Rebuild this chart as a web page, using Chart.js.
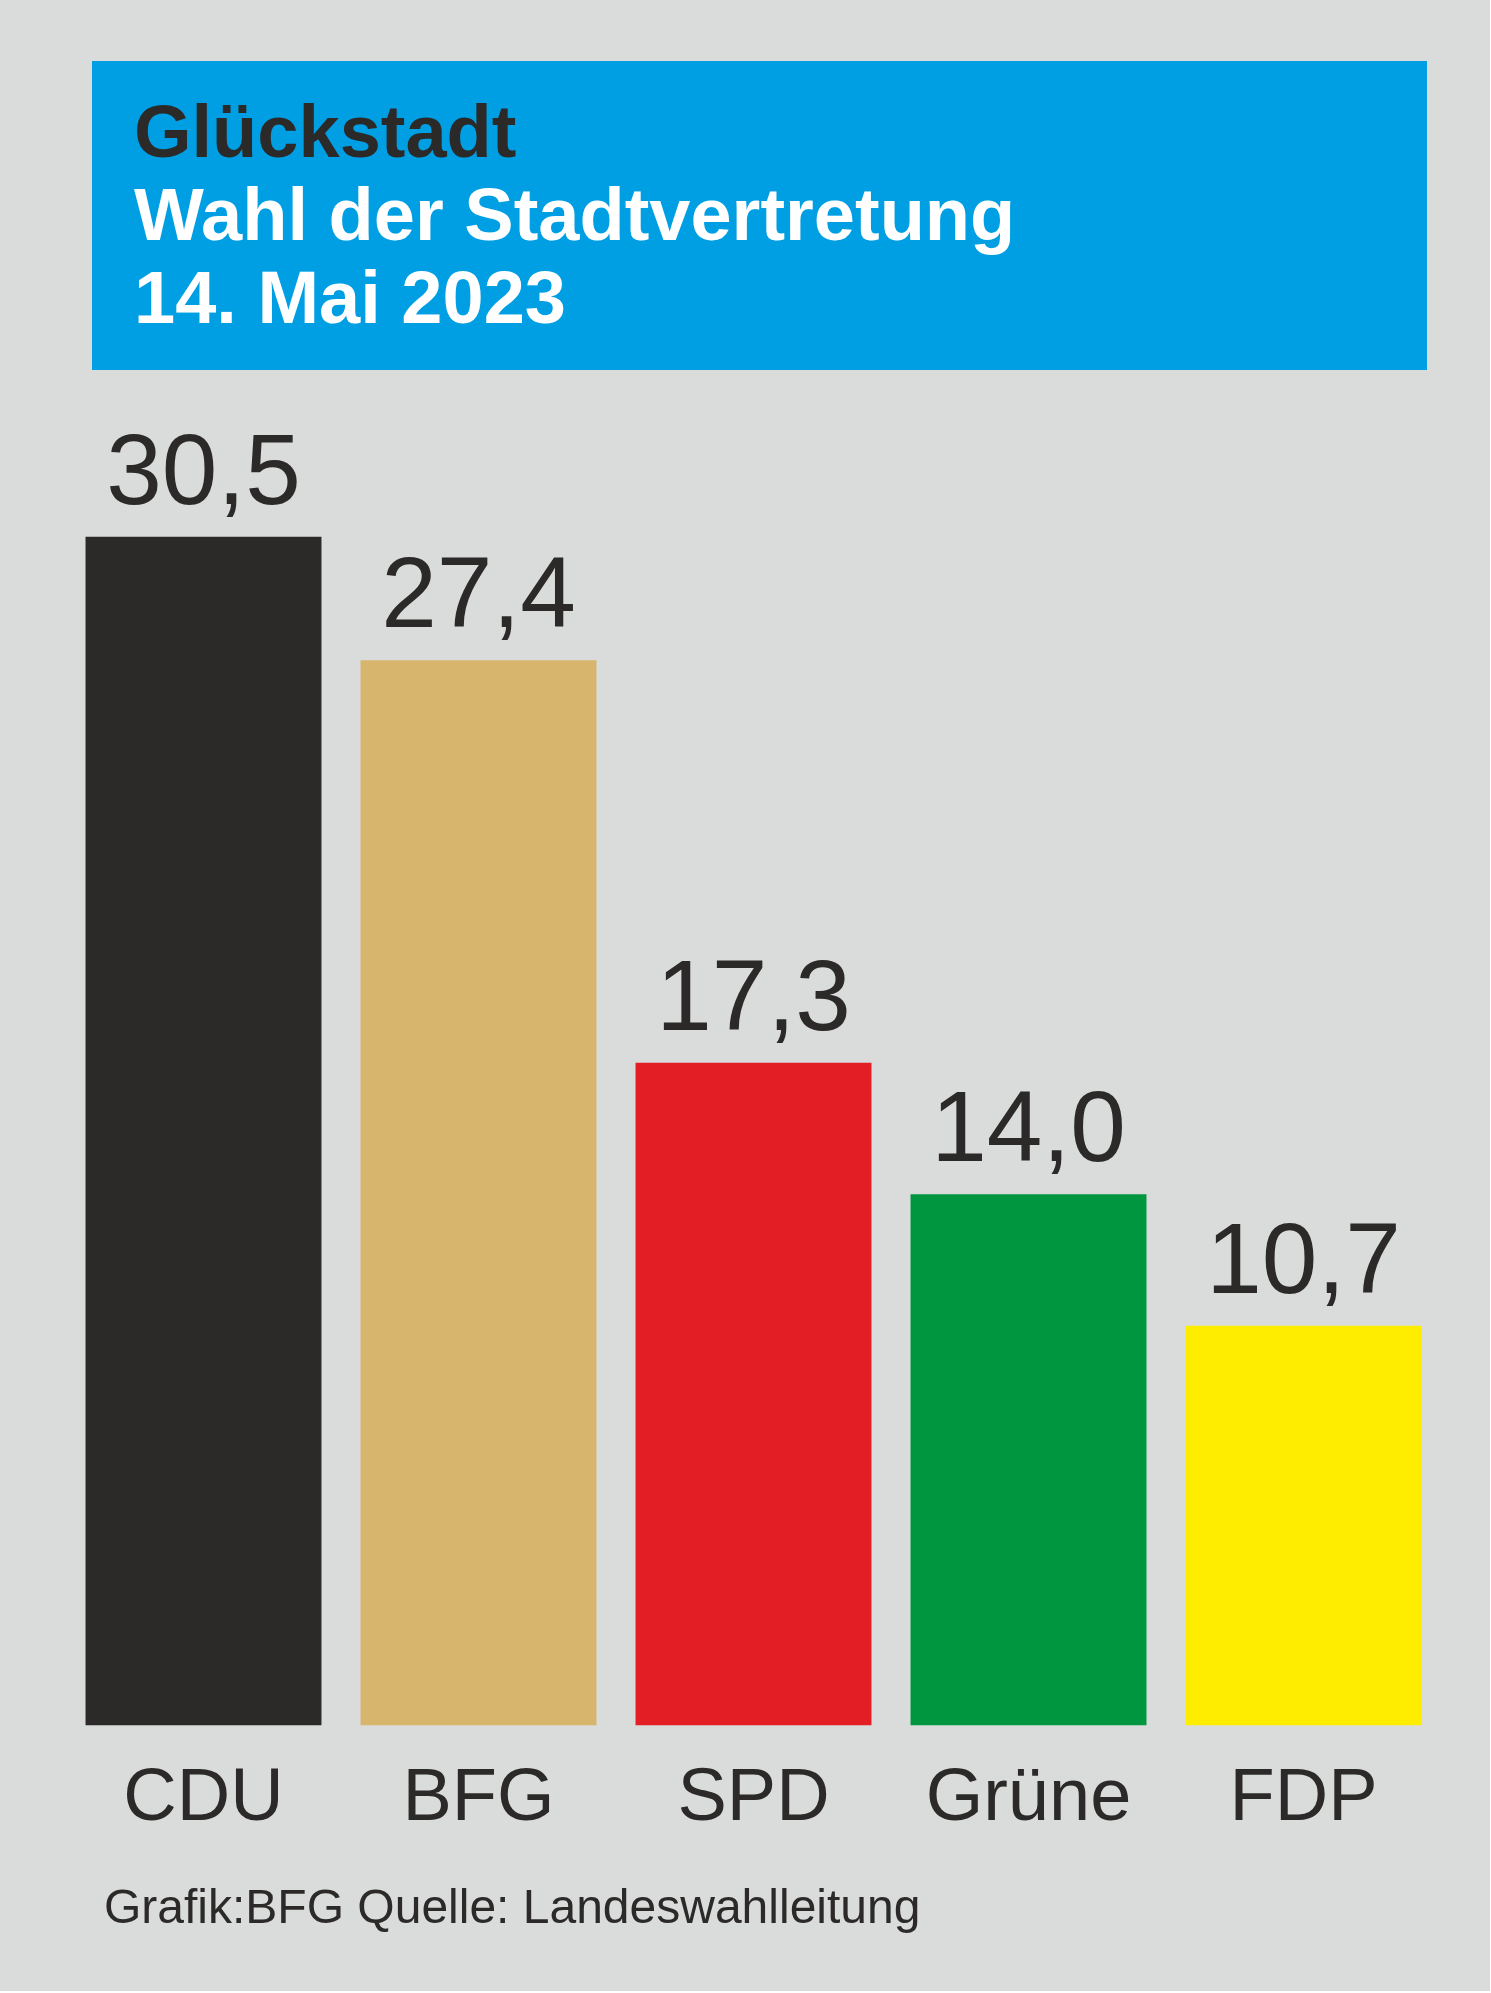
<!DOCTYPE html>
<html lang="de">
<head>
  <meta charset="UTF-8" />
  <title>Glückstadt - Wahl der Stadtvertretung 2023</title>
  <script src="https://cdn.jsdelivr.net/npm/chart.js"></script>
  <style>
    * {
      box-sizing: border-box;
    }

    html, body {
      margin: 0;
      padding: 0;
      background: #ffffff;
      width: 1491px;
      height: 1993px;
      overflow: hidden;
      font-family: 'Liberation Sans', Arial, sans-serif;
    }

    .bg {
      position: absolute;
      left: 0;
      top: 0;
      width: 1490px;
      height: 1991px;
      background: #dadcdb;
    }

    .header {
      position: absolute;
      left: 92px;
      top: 61px;
      width: 1335px;
      height: 309px;
      background: #009fe3;
      padding: 29px 0 0 42px;
      font-weight: 700;
      font-size: 74px;
      line-height: 83px;
      color: #ffffff;
    }

    .header .place {
      color: #2b2a29;
    }

    canvas {
      position: absolute;
      left: 0;
      top: 0;
    }

    .source {
      position: absolute;
      left: 104px;
      top: 1878px;
      font-size: 48px;
      line-height: 58px;
      color: #2b2a29;
    }
  </style>
</head>
<body>

  <div class="bg"></div>

  <div class="header">
    <div class="place">Glückstadt</div>
    <div>Wahl der Stadtvertretung</div>
    <div>14. Mai 2023</div>
  </div>

  <canvas id="resultChart" width="1491" height="1993"></canvas>

  <div class="source">Grafik:BFG Quelle: Landeswahlleitung</div>

  <script>
    const parties = ['CDU', 'BFG', 'SPD', 'Grüne', 'FDP'];
    const shares = [30.5, 27.4, 17.3, 14.0, 10.7];
    const partyColors = ['#2b2a29', '#d7b56d', '#e31e24', '#009640', '#ffed00'];

    const textColor = '#2b2a29';
    const fontFamily = "'Liberation Sans', Arial, sans-serif";

    // value on top of every bar, german decimal comma
    const valueLabels = {
      id: 'valueLabels',
      afterDatasetsDraw(chart) {
        const ctx = chart.ctx;
        const meta = chart.getDatasetMeta(0);
        ctx.save();
        ctx.font = '100px ' + fontFamily;
        ctx.fillStyle = textColor;
        ctx.textAlign = 'center';
        ctx.textBaseline = 'alphabetic';
        meta.data.forEach((bar, i) => {
          const txt = shares[i].toFixed(1).replace('.', ',');
          ctx.fillText(txt, bar.x, bar.y - 33);
        });
        ctx.restore();
      }
    };

    const ctx = document.getElementById('resultChart').getContext('2d');
    const chart = new Chart(ctx, {
      type: 'bar',
      data: {
        labels: parties,
        datasets: [{
          label: 'Stimmenanteil',
          data: shares,
          backgroundColor: partyColors,
          borderWidth: 0,
          categoryPercentage: 1,
          barPercentage: 0.858
        }]
      },
      options: {
        responsive: false,
        animation: false,
        devicePixelRatio: 1,
        layout: {
          padding: { left: 66, right: 50, top: 477, bottom: 119 }
        },
        plugins: {
          legend: { display: false },
          tooltip: { enabled: false }
        },
        scales: {
          x: {
            grid: { display: false, drawTicks: false },
            border: { display: false },
            ticks: {
              color: textColor,
              padding: 30,
              font: { family: fontFamily, size: 74 }
            }
          },
          y: {
            display: false,
            min: 0.68,
            max: 32
          }
        }
      },
      plugins: [valueLabels]
    });
  </script>

</body>
</html>
